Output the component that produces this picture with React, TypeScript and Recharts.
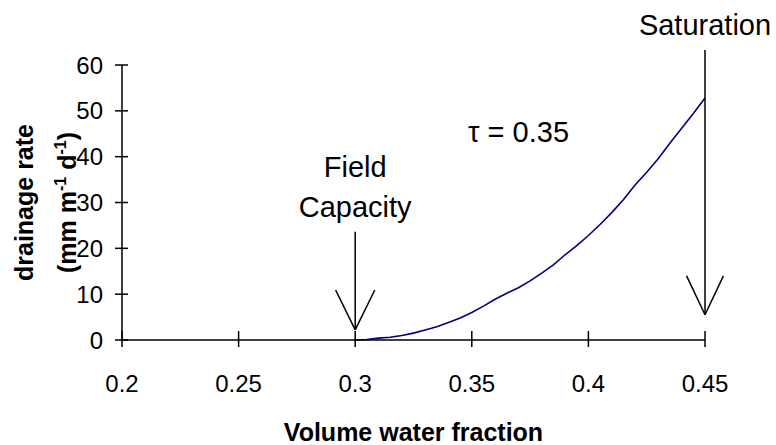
import React from "react";
import {
  LineChart,
  Line,
  XAxis,
  YAxis,
  ReferenceLine,
  ReferenceDot,
} from "recharts";

const FONT = "'Liberation Sans', Arial, sans-serif";

// volume water fraction and drainage rate
const waterFraction = [
  0.3, 0.305, 0.31, 0.315, 0.32, 0.325, 0.33, 0.335, 0.34, 0.345, 0.35,
  0.355, 0.36, 0.365, 0.37, 0.375, 0.38, 0.385, 0.39, 0.395, 0.4, 0.405,
  0.41, 0.415, 0.42, 0.425, 0.43, 0.435, 0.44, 0.445, 0.45,
];
const drainageRate = [
  0, 0.1, 0.4, 0.6, 1.0, 1.5, 2.2, 2.9, 3.8, 4.8, 6.0, 7.4, 8.9, 10.2, 11.4,
  12.9, 14.6, 16.4, 18.6, 20.6, 22.8, 25.2, 27.8, 30.6, 33.8, 36.6, 39.6,
  43.0, 46.2, 49.4, 52.8,
];
const xTicks = [0.2, 0.25, 0.3, 0.35, 0.4, 0.45];
const yTicks = [0, 10, 20, 30, 40, 50, 60];

// arrows: [shaft top, tip, wing height, wing half width]
const fieldArrow = { x: 0.3, top: 23.6, tip: 2.2, wing: 10.9, half: 0.0084 };
const satArrow = { x: 0.45, top: 63.3, tip: 5.5, wing: 14.0, half: 0.0079 };

const data = waterFraction.map((x, i) => ({ x, rate: drainageRate[i] }));

const XTick = ({ x, y, payload }: any) => (
  <g>
    <line x1={x} x2={x} y1={y - 9} y2={y + 7} stroke="#000" strokeWidth={1.5} />
    <text x={x} y={y + 52} textAnchor="middle" fontSize={24} fontFamily={FONT} fill="#000">
      {String(payload.value)}
    </text>
  </g>
);

const YTick = ({ x, y, payload }: any) => (
  <g>
    <line x1={x - 7} x2={x + 6} y1={y} y2={y} stroke="#000" strokeWidth={1.5} />
    <text x={x - 19} y={y} dy="0.36em" textAnchor="end" fontSize={24} fontFamily={FONT} fill="#000">
      {payload.value}
    </text>
  </g>
);

const XTitle = ({ viewBox }: any) => (
  <text
    x={viewBox.x + viewBox.width / 2}
    y={viewBox.y + 101}
    textAnchor="middle"
    fontSize={25}
    fontWeight="bold"
    fontFamily={FONT}
    fill="#000"
  >
    Volume water fraction
  </text>
);

const YTitle = ({ viewBox }: any) => {
  const cy = viewBox.y + viewBox.height / 2;
  return (
    <g fontFamily={FONT} fontWeight="bold" fill="#000" fontSize={25}>
      <text x={33} y={cy} textAnchor="middle" transform={`rotate(-90, 33, ${cy})`}>
        drainage rate
      </text>
      <text x={76} y={cy} textAnchor="middle" transform={`rotate(-90, 76, ${cy})`}>
        (mm m
        <tspan fontSize={16} dy={-10}>-1</tspan>
        <tspan dy={10}> d</tspan>
        <tspan fontSize={16} dy={-10}>-1</tspan>
        <tspan dy={10}>)</tspan>
      </text>
    </g>
  );
};

const note = (text: string, anchor: "middle" | "start") => (props: any) => (
  <text
    x={props.viewBox.x}
    y={props.viewBox.y}
    textAnchor={anchor}
    fontSize={29}
    fontFamily={FONT}
    fill="#000"
  >
    {text}
  </text>
);

const arrowLines = (a: typeof fieldArrow, key: string) => [
  <ReferenceLine
    key={key + "s"}
    segment={[{ x: a.x, y: a.top }, { x: a.x, y: a.tip }]}
    stroke="#000"
    strokeWidth={1.5}
    ifOverflow="visible"
  />,
  <ReferenceLine
    key={key + "l"}
    segment={[{ x: a.x - a.half, y: a.wing }, { x: a.x, y: a.tip }]}
    stroke="#000"
    strokeWidth={1.5}
    ifOverflow="visible"
  />,
  <ReferenceLine
    key={key + "r"}
    segment={[{ x: a.x + a.half, y: a.wing }, { x: a.x, y: a.tip }]}
    stroke="#000"
    strokeWidth={1.5}
    ifOverflow="visible"
  />,
];

export default function App() {
  return (
    <div style={{ position: "absolute", left: 0, top: 0, background: "#fff" }}>
      <LineChart
        width={776}
        height={445}
        data={data}
        margin={{ top: 65, right: 71, bottom: 0, left: 0 }}
      >
        <XAxis
          dataKey="x"
          type="number"
          domain={[0.2, 0.45]}
          ticks={xTicks}
          height={105}
          tickSize={0}
          tickMargin={0}
          tickLine={false}
          axisLine={{ stroke: "#000", strokeWidth: 1.5 }}
          tick={<XTick />}
          label={{ content: <XTitle /> }}
        />
        <YAxis
          type="number"
          domain={[0, 60]}
          ticks={yTicks}
          width={122}
          tickSize={0}
          tickMargin={0}
          tickLine={false}
          axisLine={{ stroke: "#000", strokeWidth: 1.5 }}
          tick={<YTick />}
          label={{ content: <YTitle /> }}
        />
        <Line
          type="linear"
          dataKey="rate"
          stroke="#000080"
          strokeWidth={1.6}
          dot={false}
          isAnimationActive={false}
        />
        {arrowLines(fieldArrow, "f")}
        {arrowLines(satArrow, "s")}
        <ReferenceDot x={0.3} y={35.6} r={0} fill="none" stroke="none" ifOverflow="visible" label={{ content: note("Field", "middle") }} />
        <ReferenceDot x={0.3} y={26.8} r={0} fill="none" stroke="none" ifOverflow="visible" label={{ content: note("Capacity", "middle") }} />
        <ReferenceDot x={0.3484} y={43.2} r={0} fill="none" stroke="none" ifOverflow="visible" label={{ content: note("τ = 0.35", "start") }} />
        <ReferenceDot x={0.45} y={66.5} r={0} fill="none" stroke="none" ifOverflow="visible" label={{ content: note("Saturation", "middle") }} />
      </LineChart>
    </div>
  );
}
